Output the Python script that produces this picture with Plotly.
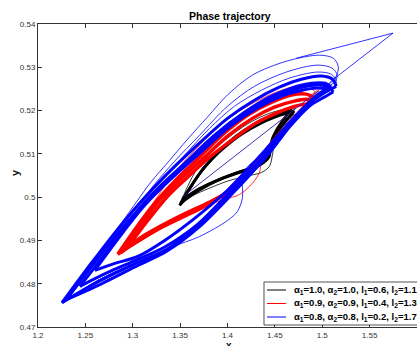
import plotly.graph_objects as go

# ---------------- tick labels ----------------
x_ticks = [1.2, 1.25, 1.3, 1.35, 1.4, 1.45, 1.5, 1.55, 1.6]
x_tick_labels = ["1.2", "1.25", "1.3", "1.35", "1.4", "1.45", "1.5", "1.55", "1.6"]
y_ticks = [0.47, 0.48, 0.49, 0.5, 0.51, 0.52, 0.53, 0.54]
y_tick_labels = ["0.47", "0.48", "0.49", "0.5", "0.51", "0.52", "0.53", "0.54"]

legend_labels = [
    "α<sub>1</sub>=1.0, α<sub>2</sub>=1.0, l<sub>1</sub>=0.6, l<sub>2</sub>=1.1",
    "α<sub>1</sub>=0.9, α<sub>2</sub>=0.9, l<sub>1</sub>=0.4, l<sub>2</sub>=1.3",
    "α<sub>1</sub>=0.8, α<sub>2</sub>=0.8, l<sub>1</sub>=0.2, l<sub>2</sub>=1.7",
]
series_colors = ["#000000", "#ff0000", "#0000ff"]

# ---------------- black trajectory (alpha=1.0) ----------------
black_start_x = [1.4968, 1.3516]
black_start_y = [0.5247, 0.4999]

black_d1_up_x = [1.3505, 1.3600, 1.3716, 1.3853, 1.4000, 1.4179, 1.4358, 1.4526, 1.4653, 1.4705]
black_d1_up_y = [0.4986, 0.5020, 0.5057, 0.5092, 0.5125, 0.5155, 0.5175, 0.5192, 0.5199, 0.5199]
black_d1_lo_x = [1.4705, 1.4621, 1.4537, 1.4474, 1.4442, 1.4421, 1.4358, 1.4232, 1.4074, 1.3884, 1.3705, 1.3505]
black_d1_lo_y = [0.5199, 0.5178, 0.5152, 0.5129, 0.5108, 0.5090, 0.5076, 0.5064, 0.5053, 0.5037, 0.5016, 0.4986]

black_d2_up_x = [1.3526, 1.3632, 1.3747, 1.3895, 1.4042, 1.4232, 1.4400, 1.4558, 1.4674]
black_d2_up_y = [0.4995, 0.5030, 0.5067, 0.5101, 0.5131, 0.5162, 0.5182, 0.5196, 0.5203]
black_d2_lo_x = [1.4674, 1.4600, 1.4526, 1.4474, 1.4453, 1.4442, 1.4389, 1.4253, 1.4084, 1.3895, 1.3705, 1.3526]
black_d2_lo_y = [0.5203, 0.5182, 0.5159, 0.5136, 0.5115, 0.5094, 0.5081, 0.5067, 0.5055, 0.5039, 0.5020, 0.4995]

black_d3_up_x = [1.3495, 1.3579, 1.3684, 1.3811, 1.3958, 1.4147, 1.4337, 1.4505, 1.4632, 1.4695]
black_d3_up_y = [0.4981, 0.5013, 0.5048, 0.5083, 0.5113, 0.5145, 0.5169, 0.5185, 0.5194, 0.5194]
black_d3_lo_x = [1.4695, 1.4611, 1.4526, 1.4463, 1.4421, 1.4379, 1.4295, 1.4147, 1.3968, 1.3758, 1.3600, 1.3495]
black_d3_lo_y = [0.5194, 0.5175, 0.5150, 0.5125, 0.5104, 0.5085, 0.5071, 0.5060, 0.5046, 0.5025, 0.5004, 0.4981]

black_o1_up_x = [1.3505, 1.3579, 1.3684, 1.3832, 1.4000, 1.4211, 1.4421, 1.4600, 1.4716]
black_o1_up_y = [0.4986, 0.5025, 0.5067, 0.5104, 0.5136, 0.5169, 0.5192, 0.5203, 0.5206]
black_o1_lo_x = [1.4716, 1.4632, 1.4547, 1.4495, 1.4474, 1.4442, 1.4358, 1.4189, 1.4000, 1.3758, 1.3600, 1.3505]
black_o1_lo_y = [0.5206, 0.5182, 0.5155, 0.5127, 0.5097, 0.5071, 0.5057, 0.5048, 0.5037, 0.5016, 0.5000, 0.4986]

# ---------------- red trajectory (alpha=0.9) ----------------
red_tr_x = [1.4968, 1.4811, 1.4653, 1.4495, 1.4389, 1.4358, 1.4337, 1.4263, 1.4126, 1.3968, 1.3811, 1.3579, 1.3284, 1.3074, 1.2874]
red_tr_y = [0.5247, 0.5213, 0.5178, 0.5138, 0.5108, 0.5085, 0.5057, 0.5032, 0.5006, 0.4995, 0.4983, 0.4965, 0.4932, 0.4905, 0.4872]

red_d1_up_x = [1.2874, 1.3074, 1.3284, 1.3495, 1.3758, 1.4000, 1.4263, 1.4495, 1.4705, 1.4842, 1.4895]
red_d1_up_y = [0.4872, 0.4932, 0.4993, 0.5039, 0.5092, 0.5141, 0.5182, 0.5208, 0.5222, 0.5226, 0.5222]
red_d1_lo_x = [1.4895, 1.4789, 1.4653, 1.4495, 1.4316, 1.4126, 1.3968, 1.3758, 1.3579, 1.3284, 1.3074, 1.2874]
red_d1_lo_y = [0.5222, 0.5201, 0.5169, 0.5127, 0.5078, 0.5034, 0.5006, 0.4983, 0.4965, 0.4932, 0.4905, 0.4872]

red_d2_up_x = [1.2947, 1.3158, 1.3368, 1.3579, 1.3811, 1.4042, 1.4284, 1.4516, 1.4716, 1.4821, 1.4863]
red_d2_up_y = [0.4884, 0.4946, 0.5002, 0.5046, 0.5092, 0.5131, 0.5169, 0.5194, 0.5210, 0.5215, 0.5213]
red_d2_lo_x = [1.4863, 1.4758, 1.4632, 1.4463, 1.4284, 1.4105, 1.3937, 1.3737, 1.3547, 1.3284, 1.3105, 1.2947]
red_d2_lo_y = [0.5213, 0.5192, 0.5159, 0.5118, 0.5071, 0.5030, 0.5002, 0.4976, 0.4956, 0.4928, 0.4905, 0.4884]

red_d3_up_x = [1.2842, 1.3032, 1.3232, 1.3442, 1.3705, 1.3968, 1.4232, 1.4463, 1.4674, 1.4832, 1.4905]
red_d3_up_y = [0.4868, 0.4928, 0.4986, 0.5037, 0.5092, 0.5148, 0.5192, 0.5219, 0.5236, 0.5238, 0.5231]
red_d3_lo_x = [1.4905, 1.4821, 1.4684, 1.4526, 1.4337, 1.4147, 1.3979, 1.3768, 1.3579, 1.3284, 1.3053, 1.2842]
red_d3_lo_y = [0.5231, 0.5210, 0.5175, 0.5134, 0.5083, 0.5039, 0.5009, 0.4983, 0.4962, 0.4928, 0.4898, 0.4868]

red_o1_up_x = [1.2874, 1.3074, 1.3263, 1.3442, 1.3653, 1.3916, 1.4179, 1.4442, 1.4705, 1.4916, 1.4989, 1.4947, 1.4863]
red_o1_up_y = [0.4872, 0.4937, 0.5002, 0.5057, 0.5108, 0.5166, 0.5206, 0.5236, 0.5256, 0.5263, 0.5259, 0.5247, 0.5233]
red_o1_lo_x = [1.4863, 1.4821, 1.4684, 1.4526, 1.4337, 1.4147, 1.3979, 1.3768, 1.3579, 1.3284, 1.3053, 1.2874]
red_o1_lo_y = [0.5233, 0.5210, 0.5175, 0.5134, 0.5083, 0.5039, 0.5009, 0.4983, 0.4962, 0.4928, 0.4898, 0.4872]

red_o2_up_x = [1.2874, 1.3095, 1.3305, 1.3516, 1.3758, 1.4000, 1.4253, 1.4495, 1.4726, 1.4884, 1.4926]
red_o2_up_y = [0.4872, 0.4937, 0.4999, 0.5050, 0.5104, 0.5155, 0.5196, 0.5224, 0.5243, 0.5250, 0.5243]
red_o2_lo_x = [1.4926, 1.4789, 1.4653, 1.4495, 1.4316, 1.4126, 1.3968, 1.3758, 1.3579, 1.3284, 1.3074, 1.2874]
red_o2_lo_y = [0.5243, 0.5201, 0.5169, 0.5127, 0.5078, 0.5034, 0.5006, 0.4983, 0.4965, 0.4932, 0.4905, 0.4872]

# ---------------- blue trajectory (alpha=0.8) ----------------
blue_jump_x = [1.4726, 1.5747, 1.5105]
blue_jump_y = [0.5321, 0.5379, 0.5270]

blue_tr_x = [1.5105, 1.4895, 1.4653, 1.4442, 1.4316, 1.4200, 1.4158, 1.4158, 1.4105, 1.4000, 1.3705, 1.3400, 1.3053, 1.2653, 1.2253]
blue_tr_y = [0.5270, 0.5224, 0.5178, 0.5118, 0.5090, 0.5067, 0.5039, 0.4999, 0.4967, 0.4946, 0.4909, 0.4884, 0.4851, 0.4810, 0.4756]

blue_o1_up_x = [1.2253, 1.2653, 1.2968, 1.3189, 1.3389, 1.3579, 1.3789, 1.4000, 1.4263, 1.4621, 1.4968, 1.5116, 1.5168, 1.5158, 1.5116]
blue_o1_up_y = [0.4756, 0.4872, 0.4967, 0.5034, 0.5085, 0.5134, 0.5185, 0.5236, 0.5282, 0.5314, 0.5328, 0.5321, 0.5303, 0.5284, 0.5270]
blue_o1_lo_x = [1.5116, 1.5032, 1.4895, 1.4684, 1.4411, 1.4053, 1.3705, 1.3358, 1.3053, 1.2653, 1.2253]
blue_o1_lo_y = [0.5270, 0.5252, 0.5224, 0.5173, 0.5097, 0.5013, 0.4939, 0.4881, 0.4851, 0.4810, 0.4756]

blue_o2_up_x = [1.2253, 1.2653, 1.2968, 1.3232, 1.3442, 1.3705, 1.4000, 1.4284, 1.4621, 1.4947, 1.5105, 1.5158, 1.5137]
blue_o2_up_y = [0.4756, 0.4868, 0.4956, 0.5030, 0.5083, 0.5143, 0.5210, 0.5256, 0.5289, 0.5305, 0.5298, 0.5282, 0.5266]
blue_o2_lo_x = [1.5137, 1.5032, 1.4895, 1.4684, 1.4411, 1.4053, 1.3705, 1.3358, 1.3053, 1.2653, 1.2253]
blue_o2_lo_y = [0.5266, 0.5250, 0.5222, 0.5171, 0.5094, 0.5011, 0.4937, 0.4879, 0.4849, 0.4807, 0.4756]

blue_o3_up_x = [1.2337, 1.2705, 1.3021, 1.3284, 1.3526, 1.3811, 1.4074, 1.4358, 1.4653, 1.4947, 1.5095, 1.5147, 1.5137]
blue_o3_up_y = [0.4770, 0.4877, 0.4965, 0.5034, 0.5092, 0.5159, 0.5210, 0.5247, 0.5275, 0.5289, 0.5284, 0.5270, 0.5256]
blue_o3_lo_x = [1.5137, 1.5032, 1.4874, 1.4663, 1.4389, 1.4042, 1.3695, 1.3347, 1.3042, 1.2653, 1.2337]
blue_o3_lo_y = [0.5256, 0.5243, 0.5215, 0.5166, 0.5090, 0.5009, 0.4935, 0.4877, 0.4847, 0.4805, 0.4770]

blue_d1_up_x = [1.2253, 1.2568, 1.2863, 1.3126, 1.3337, 1.3621, 1.4000, 1.4284, 1.4547, 1.4789, 1.4989, 1.5105, 1.5147]
blue_d1_up_y = [0.4756, 0.4849, 0.4932, 0.4999, 0.5048, 0.5108, 0.5182, 0.5224, 0.5254, 0.5273, 0.5280, 0.5273, 0.5256]
blue_d1_lo_x = [1.5147, 1.5053, 1.4895, 1.4684, 1.4411, 1.4053, 1.3705, 1.3358, 1.3053, 1.2653, 1.2253]
blue_d1_lo_y = [0.5256, 0.5245, 0.5222, 0.5171, 0.5094, 0.5011, 0.4937, 0.4879, 0.4849, 0.4807, 0.4756]

blue_d2_up_x = [1.2295, 1.2600, 1.2905, 1.3179, 1.3389, 1.3684, 1.4042, 1.4316, 1.4568, 1.4789, 1.4968, 1.5074, 1.5116]
blue_d2_up_y = [0.4763, 0.4849, 0.4932, 0.4999, 0.5044, 0.5104, 0.5173, 0.5210, 0.5238, 0.5254, 0.5259, 0.5254, 0.5243]
blue_d2_lo_x = [1.5116, 1.5021, 1.4863, 1.4653, 1.4389, 1.4042, 1.3705, 1.3358, 1.3053, 1.2653, 1.2295]
blue_d2_lo_y = [0.5243, 0.5231, 0.5210, 0.5162, 0.5090, 0.5006, 0.4932, 0.4875, 0.4842, 0.4798, 0.4763]

blue_d3_up_x = [1.2600, 1.2863, 1.3126, 1.3389, 1.3684, 1.4042, 1.4316, 1.4568, 1.4789, 1.4947, 1.5053]
blue_d3_up_y = [0.4831, 0.4909, 0.4981, 0.5039, 0.5097, 0.5166, 0.5206, 0.5233, 0.5247, 0.5252, 0.5250]
blue_d3_lo_x = [1.5053, 1.4947, 1.4758, 1.4547, 1.4284, 1.4000, 1.3653, 1.3337, 1.3053, 1.2811, 1.2600]
blue_d3_lo_y = [0.5250, 0.5236, 0.5196, 0.5145, 0.5081, 0.5016, 0.4951, 0.4900, 0.4863, 0.4847, 0.4831]

blue_d4_up_x = [1.2442, 1.2737, 1.3011, 1.3263, 1.3537, 1.3863, 1.4179, 1.4442, 1.4674, 1.4884, 1.5032, 1.5095]
blue_d4_up_y = [0.4794, 0.4877, 0.4958, 0.5020, 0.5076, 0.5143, 0.5196, 0.5231, 0.5252, 0.5263, 0.5263, 0.5254]
blue_d4_lo_x = [1.5095, 1.4989, 1.4821, 1.4611, 1.4347, 1.4021, 1.3684, 1.3347, 1.3053, 1.2737, 1.2442]
blue_d4_lo_y = [0.5254, 0.5238, 0.5210, 0.5159, 0.5085, 0.5011, 0.4937, 0.4886, 0.4856, 0.4826, 0.4794]


def join(*arcs):
    xs, ys = [], []
    for ax, ay in arcs:
        xs += list(ax) + [None]
        ys += list(ay) + [None]
    return xs, ys


fig = go.Figure()


def add(arcs, color, width, shape="spline"):
    xs, ys = join(*arcs)
    line = dict(color=color, width=width, shape=shape)
    if shape == "spline":
        line["smoothing"] = 0.9
    fig.add_trace(go.Scatter(x=xs, y=ys, mode="lines", showlegend=False,
                             hoverinfo="skip", connectgaps=False, line=line))


# black
add([(black_d1_up_x, black_d1_up_y), (black_d1_lo_x, black_d1_lo_y),
     (black_d2_up_x, black_d2_up_y), (black_d2_lo_x, black_d2_lo_y),
     (black_d3_up_x, black_d3_up_y), (black_d3_lo_x, black_d3_lo_y)], series_colors[0], 2.6)
add([(black_o1_up_x, black_o1_up_y), (black_o1_lo_x, black_o1_lo_y)], series_colors[0], 0.8)
# red
add([(red_d1_up_x, red_d1_up_y), (red_d1_lo_x, red_d1_lo_y),
     (red_d2_up_x, red_d2_up_y), (red_d2_lo_x, red_d2_lo_y),
     (red_d3_up_x, red_d3_up_y), (red_d3_lo_x, red_d3_lo_y)], series_colors[1], 3.4)
add([(red_o1_up_x, red_o1_up_y), (red_o1_lo_x, red_o1_lo_y),
     (red_o2_up_x, red_o2_up_y), (red_o2_lo_x, red_o2_lo_y),
     (red_tr_x, red_tr_y)], series_colors[1], 0.8)
# blue
add([(blue_d1_up_x, blue_d1_up_y), (blue_d1_lo_x, blue_d1_lo_y),
     (blue_d2_up_x, blue_d2_up_y), (blue_d2_lo_x, blue_d2_lo_y),
     (blue_d3_up_x, blue_d3_up_y), (blue_d3_lo_x, blue_d3_lo_y),
     (blue_d4_up_x, blue_d4_up_y), (blue_d4_lo_x, blue_d4_lo_y)], series_colors[2], 3.0)
add([(blue_o1_up_x, blue_o1_up_y), (blue_o1_lo_x, blue_o1_lo_y),
     (blue_o2_up_x, blue_o2_up_y), (blue_o2_lo_x, blue_o2_lo_y),
     (blue_o3_up_x, blue_o3_up_y), (blue_o3_lo_x, blue_o3_lo_y),
     (blue_tr_x, blue_tr_y)], series_colors[2], 0.8)
add([(blue_jump_x, blue_jump_y)], series_colors[2], 0.8, shape="linear")
# black start segment (appears purple where overdrawn)
add([(black_start_x, black_start_y)], "#3a12b0", 0.9, shape="linear")

axis_col = "#333333"
tick_font = dict(family="Liberation Sans, Arial, sans-serif", size=8, color=axis_col)

fig.update_xaxes(range=[1.2, 1.6], tickvals=x_ticks, ticktext=x_tick_labels,
                 ticks="inside", ticklen=4, tickwidth=1, tickcolor=axis_col,
                 showline=True, linecolor=axis_col, linewidth=1, mirror="ticks",
                 showgrid=False, zeroline=False, tickfont=tick_font)
fig.update_yaxes(range=[0.47, 0.54], tickvals=y_ticks, ticktext=y_tick_labels,
                 ticks="inside", ticklen=4, tickwidth=1, tickcolor=axis_col,
                 showline=True, linecolor=axis_col, linewidth=1, mirror=False,
                 showgrid=False, zeroline=False, tickfont=tick_font)

annotations = [
    dict(text="<b>Phase trajectory</b>", x=0.5066, y=1.0264, xref="paper", yref="paper",
         xanchor="center", yanchor="middle", showarrow=False,
         font=dict(family="Liberation Sans, Arial, sans-serif", size=10.5, color="#000000")),
    dict(text="<b>y</b>", x=-0.0607, y=0.5116, xref="paper", yref="paper", textangle=-90,
         xanchor="center", yanchor="middle", showarrow=False,
         font=dict(family="Liberation Sans, Arial, sans-serif", size=11, color="#1a1a1a")),
    dict(text="<b>x</b>", x=0.504, y=-0.062, xref="paper", yref="paper",
         xanchor="center", yanchor="middle", showarrow=False,
         font=dict(family="Liberation Sans, Arial, sans-serif", size=10, color="#1a1a1a")),
]

shapes = [
    dict(type="rect", xref="paper", yref="paper", x0=0.5963, x1=1.02, y0=0.0066, y1=0.1485,
         line=dict(color="#262626", width=0.8), fillcolor="white", layer="above"),
]
legend_y = [0.1221, 0.0776, 0.0330]
for lbl, col, ly in zip(legend_labels, series_colors, legend_y):
    shapes.append(dict(type="line", xref="paper", yref="paper", x0=0.6042, x1=0.6544,
                       y0=ly, y1=ly, line=dict(color=col, width=1), layer="above"))
    annotations.append(dict(text="<b>" + lbl + "</b>", x=0.6702, y=ly, xref="paper", yref="paper",
                            xanchor="left", yanchor="middle", showarrow=False,
                            font=dict(family="Liberation Sans, Arial, sans-serif", size=9.5,
                                      color="#000000")))

fig.update_layout(width=417, height=346, margin=dict(l=38, r=0, t=24, b=19),
                  paper_bgcolor="white", plot_bgcolor="white",
                  annotations=annotations, shapes=shapes, showlegend=False)

fig.write_html("out.html")
